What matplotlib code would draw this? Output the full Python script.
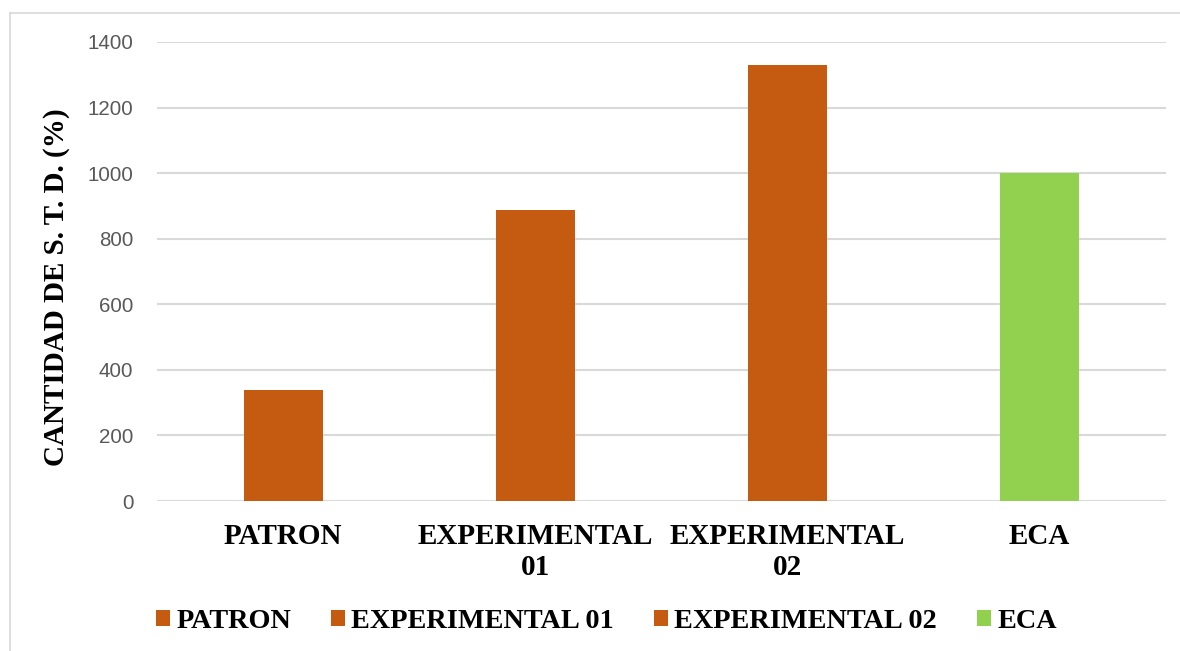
import matplotlib
matplotlib.use("Agg")
import matplotlib.pyplot as plt
from matplotlib.lines import Line2D
from matplotlib.patches import Patch

categories = ["PATRON", "EXPERIMENTAL\n01", "EXPERIMENTAL\n02", "ECA"]
series_names = ["PATRON", "EXPERIMENTAL 01", "EXPERIMENTAL 02", "ECA"]
values = [340, 888, 1330, 1000]
colors = ["#C55A11", "#C55A11", "#C55A11", "#92D050"]
yticks = [0, 200, 400, 600, 800, 1000, 1200, 1400]

serif = ["Liberation Serif", "DejaVu Serif"]

fig = plt.figure(figsize=(11.8, 6.51), dpi=100)
ax = fig.add_axes([0.133, 0.2304, 0.855, 0.7051])

x = list(range(len(categories)))
for i, (v, c, n) in enumerate(zip(values, colors, series_names)):
    ax.bar(x[i], v, width=0.313, color=c, label=n, zorder=3)

ax.set_xlim(-0.5, 3.5)
ax.set_ylim(0, 1400)
ax.set_yticks(yticks)
ax.set_yticklabels([str(t) for t in yticks], fontfamily="Liberation Sans",
                   fontsize=14.8, color="#595959")
ax.set_xticks(x)
ax.set_xticklabels(categories, fontfamily=serif, fontweight="bold",
                   fontsize=21, color="black", linespacing=1.2)
ax.tick_params(axis="y", length=0, pad=17)
ax.tick_params(axis="x", length=0, pad=16)
ax.grid(axis="y", color="#D9D9D9", linewidth=1.5, zorder=0)
ax.set_axisbelow(True)
for s in ax.spines.values():
    s.set_visible(False)

ax.set_ylabel("CANTIDAD DE S. T. D. (%)", fontfamily=serif, fontweight="bold",
              fontsize=21, color="black")
ax.yaxis.set_label_coords(-0.086, 0.466)

handles = [Patch(facecolor=c, edgecolor="none") for c in colors]
leg = fig.legend(handles, series_names, loc="center", bbox_to_anchor=(0.514, 0.045),
                 ncol=4, frameon=False, handlelength=0.5, handleheight=0.5,
                 handletextpad=0.22, columnspacing=1.42,
                 prop={"family": serif, "weight": "bold", "size": 20.3})

# chart area border (top and left)
fig.add_artist(Line2D([0.0085, 1.0], [1 - 13/651, 1 - 13/651], color="#D9D9D9",
                      linewidth=1.2, transform=fig.transFigure))
fig.add_artist(Line2D([0.0085, 0.0085], [0.0, 1 - 13/651], color="#D9D9D9",
                      linewidth=1.2, transform=fig.transFigure))

fig.savefig("out.png", dpi=100)
